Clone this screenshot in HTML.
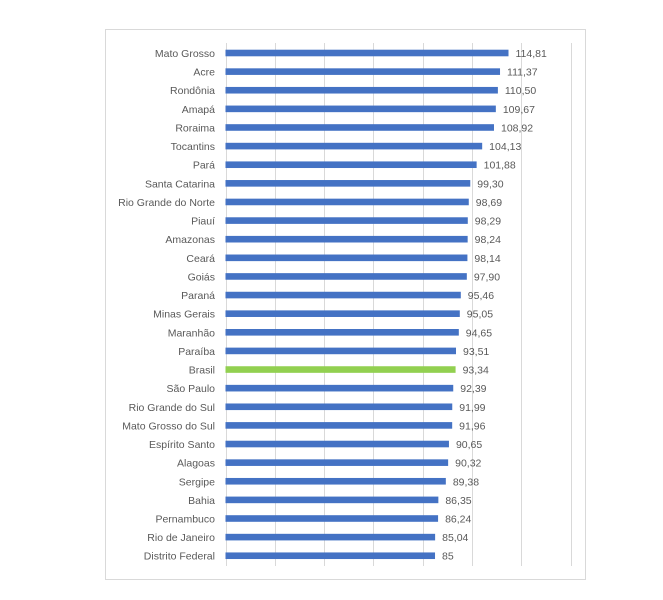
<!DOCTYPE html>
<html><head><meta charset="utf-8"><style>body{margin:0;background:#fff}svg{display:block}text{font-family:"Liberation Sans",sans-serif;font-size:10.5px;fill:#595959}</style></head><body>
<svg width="663" height="600" xmlns="http://www.w3.org/2000/svg">
<rect x="105.5" y="29.5" width="480" height="550" fill="#fff" stroke="#d9d9d9"/>
<g id="g" stroke="#d9d9d9" stroke-width="1"></g>
<g id="b"></g>
</svg>
<script>
var d=[["Mato Grosso",114.81,"114,81"],["Acre",111.37,"111,37"],["Rondônia",110.50,"110,50"],["Amapá",109.67,"109,67"],["Roraima",108.92,"108,92"],["Tocantins",104.13,"104,13"],["Pará",101.88,"101,88"],["Santa Catarina",99.30,"99,30"],["Rio Grande do Norte",98.69,"98,69"],["Piauí",98.29,"98,29"],["Amazonas",98.24,"98,24"],["Ceará",98.14,"98,14"],["Goiás",97.90,"97,90"],["Paraná",95.46,"95,46"],["Minas Gerais",95.05,"95,05"],["Maranhão",94.65,"94,65"],["Paraíba",93.51,"93,51"],["Brasil",93.34,"93,34"],["São Paulo",92.39,"92,39"],["Rio Grande do Sul",91.99,"91,99"],["Mato Grosso do Sul",91.96,"91,96"],["Espírito Santo",90.65,"90,65"],["Alagoas",90.32,"90,32"],["Sergipe",89.38,"89,38"],["Bahia",86.35,"86,35"],["Pernambuco",86.24,"86,24"],["Rio de Janeiro",85.04,"85,04"],["Distrito Federal",85,"85"]];
var ns="http://www.w3.org/2000/svg",g=document.getElementById("g"),b=document.getElementById("b");
function el(p,t,a,tx){var e=document.createElementNS(ns,t);for(var k in a)e.setAttribute(k,a[k]);if(tx)e.textContent=tx;p.appendChild(e);}
var x0=225.5,s=2.465;
for(var i=0;i<=7;i++){var x=Math.round(x0+i*20*s)+0.5;el(g,"line",{x1:x,x2:x,y1:43,y2:566});}
d.forEach(function(r,i){var c=53+i*18.62;var w=r[1]*s;
el(b,"rect",{x:x0,y:c-3.3,width:w,height:6.6,fill:r[0]=="Brasil"?"#92d050":"#4472c4"});
el(b,"text",{x:215,y:c+4,"text-anchor":"end"},r[0]);
el(b,"text",{x:x0+w+7,y:c+4},r[2]);});
</script>
</body></html>
